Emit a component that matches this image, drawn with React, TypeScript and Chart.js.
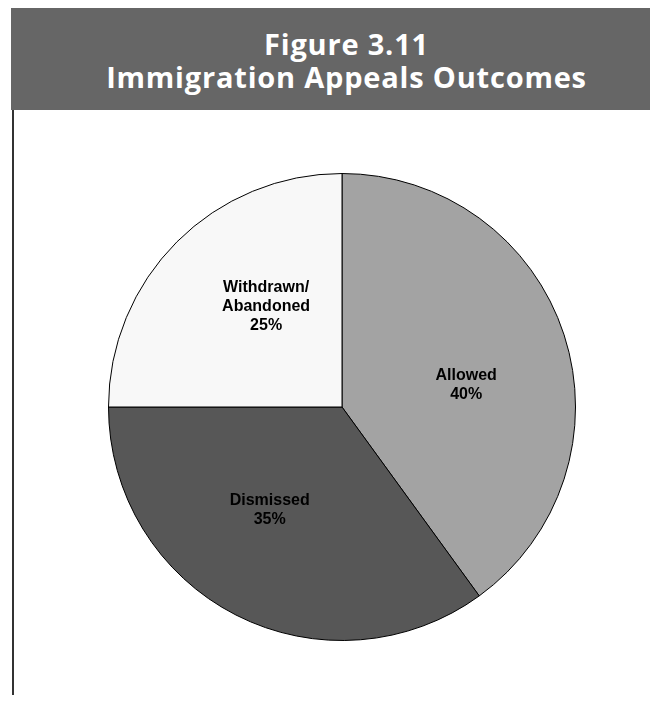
import React, { useEffect, useRef } from "react";
import { Chart, registerables } from "chart.js";

Chart.register(...registerables);

const categories = ["Allowed", "Dismissed", "Withdrawn/\nAbandoned"];
const values = [40, 35, 25];
const sliceColors = ["#a3a3a3", "#575757", "#f8f8f8"];
const titleLines = ["Figure 3.11", "Immigration Appeals Outcomes"];

const LABEL_ANGLE_SHIFT = (8 * Math.PI) / 180;
const LABEL_RADIUS = 0.54;

const labelPlugin = {
  id: "sliceLabels",
  afterDatasetsDraw(chart: any) {
    const ctx = chart.ctx;
    const meta = chart.getDatasetMeta(0);
    const total = values.reduce((a, b) => a + b, 0);
    ctx.save();
    ctx.fillStyle = "#000";
    ctx.font = "bold 16px 'Liberation Sans', Arial, sans-serif";
    ctx.textAlign = "center";
    ctx.textBaseline = "middle";
    meta.data.forEach((arc: any, i: number) => {
      const { x, y, startAngle, endAngle, outerRadius } = arc.getProps(
        ["x", "y", "startAngle", "endAngle", "outerRadius"],
        true
      );
      const mid = (startAngle + endAngle) / 2 + LABEL_ANGLE_SHIFT;
      const r = outerRadius * LABEL_RADIUS;
      const cx = x + Math.cos(mid) * r;
      const cy = y + Math.sin(mid) * r;
      const lines = categories[i].split("\n");
      lines.push(Math.round((values[i] / total) * 100) + "%");
      const lh = 19;
      const y0 = cy - ((lines.length - 1) * lh) / 2;
      lines.forEach((t, k) => ctx.fillText(t, cx, y0 + k * lh));
    });
    ctx.restore();
  },
};

export default function App() {
  const ref = useRef<HTMLCanvasElement | null>(null);
  useEffect(() => {
    if (!ref.current) return;
    const chart = new Chart(ref.current, {
      type: "pie",
      data: {
        labels: categories,
        datasets: [
          {
            data: values,
            backgroundColor: sliceColors,
            borderColor: "#000",
            borderWidth: 1,
          },
        ],
      },
      options: {
        animation: false,
        responsive: false,
        maintainAspectRatio: false,
        layout: { padding: { top: 63, bottom: 9, left: 0, right: 0 } },
        plugins: {
          legend: { display: false },
          tooltip: { enabled: false },
          title: { display: false },
        },
      },
      plugins: [labelPlugin],
    });
    return () => chart.destroy();
  }, []);

  return (
    <div
      style={{
        position: "relative",
        margin: "-8px",
        width: 658,
        height: 703,
        background: "#fff",
        overflow: "hidden",
      }}
    >
      <div
        style={{
          position: "absolute",
          left: 11,
          top: 5,
          width: 647,
          height: 105,
          boxSizing: "border-box",
          paddingLeft: 24,
          paddingTop: 4,
          background: "#666666",
          color: "#fff",
          fontFamily: "'Open Sans', sans-serif",
          fontWeight: 700,
          fontSize: 29,
          lineHeight: "33px",
          textAlign: "center",
          display: "flex",
          flexDirection: "column",
          justifyContent: "center",
          letterSpacing: "0.8px",
        }}
      >
        {titleLines.map((t) => (
          <div key={t}>{t}</div>
        ))}
      </div>
      <div
        style={{
          position: "absolute",
          left: 12,
          top: 110,
          width: 2,
          height: 593,
          background: "#333",
        }}
      />
      <canvas
        ref={ref}
        width={468}
        height={540}
        style={{ position: "absolute", left: 108, top: 110 }}
      />
    </div>
  );
}
